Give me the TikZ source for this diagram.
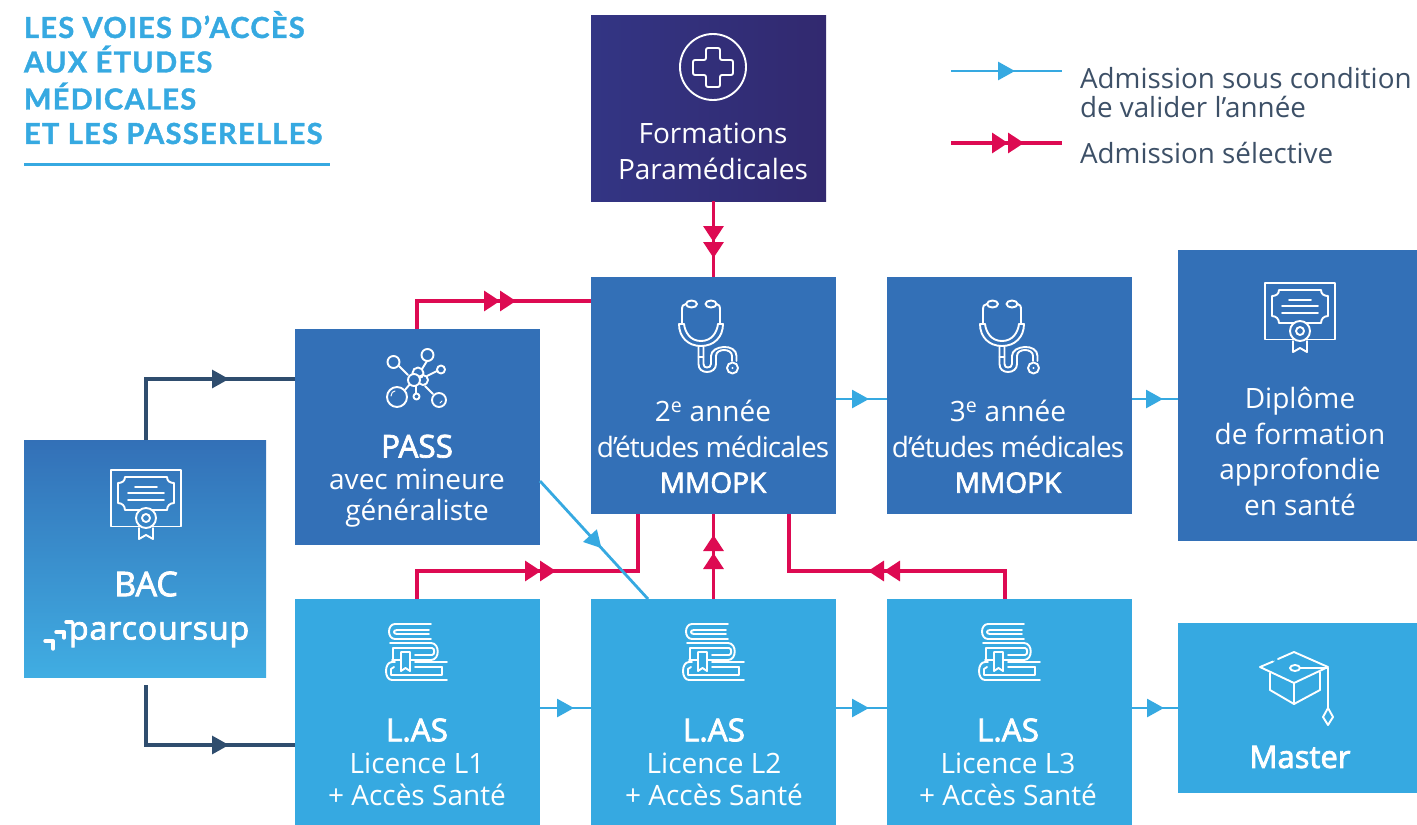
\documentclass[tikz,border=0pt]{standalone}
\usepackage{fontspec}
\setmainfont{Open Sans}
\newfontfamily\ttlfont[LetterSpace=4.5,BoldFeatures={FakeBold=1.3}]{Lato}
\newfontfamily\psfont[LetterSpace=3,FakeBold=2.5]{Open Sans}
\newfontfamily\sbfont[FakeBold=2.5]{Open Sans}
\newfontfamily\tightfont[LetterSpace=-3.4]{Open Sans}
\usetikzlibrary{arrows.meta,decorations.markings,calc}
\definecolor{boxblue}{HTML}{3370B7}
\definecolor{lightblue}{HTML}{36A9E1}
\definecolor{pinkc}{HTML}{DD0A52}
\definecolor{navyc}{HTML}{2F4D6E}
\definecolor{legendc}{HTML}{3D5067}
\definecolor{paraL}{HTML}{333584}
\definecolor{paraR}{HTML}{32296F}
\definecolor{bacseal}{HTML}{3784C5}
\tikzset{
  x=1pt,y=-1pt,
  boxd/.style={draw=none,fill=boxblue,inner sep=0,outer sep=0},
  boxl/.style={draw=none,fill=lightblue,inner sep=0,outer sep=0},
  lbl/.style={inner sep=0,outer sep=0,align=center,text=white,font=\fontsize{28}{35.6}\selectfont},
  lblb/.style={inner sep=0,outer sep=0,align=center,text=white,font=\fontsize{28}{31.5}\selectfont},
  lblc/.style={inner sep=0,outer sep=0,align=center,text=white,font=\fontsize{28}{32}\selectfont},
  lgd/.style={inner sep=0,outer sep=0,align=left,anchor=west,text=legendc,font=\fontsize{27.8}{29.5}\selectfont},
  tipone/.style={postaction={decorate,decoration={markings,mark=at position #1pt with {\arrow{Triangle[length=17pt,width=18pt]}}}}},
  tippink/.style={postaction={decorate,decoration={markings,mark=at position #1pt with {\arrow{Triangle[length=16pt,width=20pt]}}}}},
  bluelink/.style={draw=lightblue,line width=2.8pt},
  pinklink/.style={draw=pinkc,line width=3.2pt},
  navylink/.style={draw=navyc,line width=3.2pt},
  ic/.style={draw=white,line width=1.9pt,line cap=round,line join=round},
  iconsteth/.pic={
    \draw[ic] (51.5,19) ellipse [x radius=5.5,y radius=3.5];
    \draw[ic] (71,19) ellipse [x radius=5.5,y radius=3.5];
    \draw[ic] (46,19) .. controls (43,19) and (42,21) .. (42,25) -- (42,39);
    \draw[ic] (76.5,19) .. controls (79,19) and (80,21) .. (80,25) -- (80,39);
    \draw[ic] (39,39) -- (44,39) (78,39) -- (83,39);
    \draw[ic] (39,39) .. controls (39,52) and (48,61) .. (61,61) .. controls (74,61) and (83,52) .. (83,39);
    \draw[ic] (44,39) .. controls (45,47) and (50,56) .. (61,56) .. controls (72,56) and (77,47) .. (78,39);
    \draw[ic] (58.5,61) -- (58.5,79) .. controls (58.5,84) and (62,87) .. (67,87) .. controls (72,87) and (76,84) .. (76,79) -- (76,71) .. controls (76,63) and (92,63) .. (92,71) -- (92,76);
    \draw[ic] (63.5,61) -- (63.5,79) .. controls (63.5,81.5) and (65,82.5) .. (67,82.5) .. controls (69,82.5) and (71,81.5) .. (71,79) -- (71,71) .. controls (71,60) and (96.5,58) .. (96.5,71) -- (96.5,76);
    \draw[ic] (58.5,72) -- (63.5,72);
    \draw[ic] (92.5,83) circle [radius=5.5];
    \fill[white] (92.5,83) circle [radius=1.2];
  },
  iconcert/.pic={
    \draw[ic] (-35,-35) rectangle (35,21.5);
    \draw[ic] (-21,-28) -- (21,-28) .. controls (21,-24) and (24,-22) .. (28,-22) -- (28,-2) .. controls (24,-2) and (21,1) .. (21,5) -- (-21,5)
      .. controls (-21,1) and (-24,-2) .. (-28,-2) -- (-28,-22) .. controls (-24,-22) and (-21,-24) .. (-21,-28) -- cycle;
    \draw[ic] (-11,-18) -- (11,-18) (-18,-12) -- (18,-12) (-18,-5) -- (18,-5);
    \draw[ic,fill=#1] (0,13) circle [radius=10];
    \draw[ic] (0,13) circle [radius=4];
    \draw[ic] (-7,23) -- (-7,34) -- (0,30) -- (7,34) -- (7,23);
  },
  iconmol/.pic={
    \draw[ic] (399,366) -- (408,375) (427,361) -- (422,369) (437,371) -- (427,376) (416,386) -- (416,393) (405,390) -- (410,384) (425,386) -- (433,394);
    \draw[ic] (418,373) circle [radius=5.5];
    \draw[ic] (423,380) circle [radius=5];
    \draw[ic,fill=boxblue] (414,380) circle [radius=6];
    \draw[ic] (393.5,362) circle [radius=6];
    \draw[ic] (427.5,355) circle [radius=6];
    \draw[ic] (441,369.5) circle [radius=4];
    \draw[ic] (397,397) circle [radius=10];
    \draw[ic] (439,400) circle [radius=7];
    \draw[ic] (416.5,396.5) circle [radius=3];
    \draw[ic,line width=1pt] (391,396) .. controls (391,393) and (393,391) .. (395,391);
    \draw[ic,line width=1pt] (440,403) -- (442,401);
  },
  iconbooks/.pic={
    \draw[ic] (61,14) -- (25,14) .. controls (17,14) and (17,29) .. (25,29) -- (61,29);
    \draw[ic] (59,20) -- (27,20) .. controls (23,20) and (23,24) .. (27,24) -- (59,24);
    \draw[ic] (20,33) -- (61,33) .. controls (70,33) and (70,50) .. (61,50) -- (22,50);
    \draw[ic] (45,38) -- (62,38) .. controls (65,38) and (65,45) .. (62,45) -- (45,45);
    \draw[ic] (23,38) -- (23,50);
    \draw[ic] (23,38) -- (45,38);
    \draw[ic,fill=lightblue] (31,42) -- (31,61) -- (35.5,58) -- (40,61) -- (40,42) -- cycle;
    \draw[ic] (45,52) -- (77,52);
    \draw[ic] (25,52) -- (22,52) .. controls (14,52) and (14,70) .. (22,70) -- (77,70);
    \draw[ic] (72,57) -- (72,65) -- (21,65) -- (21,59) -- (24,57);
    \draw[ic] (45,57) -- (72,57);
  },
  iconcap/.pic={
    \draw[ic] (1278,659) -- (1294,652) -- (1328,667) -- (1294,683) -- (1260,667) -- (1273,661.5);
    \fill[white] (1274.5,661) circle [radius=.3];
    \draw[ic] (1295,668) ellipse [x radius=5,y radius=3];
    \draw[ic] (1300,668) -- (1328,668) -- (1328,708);
    \draw[ic] (1328,708) -- (1333,717) -- (1328,725) -- (1323,717) -- cycle;
    \draw[ic] (1270,673) -- (1270,690) -- (1294,704) -- (1320,690) -- (1320,672);
    \draw[ic] (1294,683) -- (1294,704);
  },
}
\begin{document}
\begin{tikzpicture}
\useasboundingbox (0,0) rectangle (1417,825);
% title
\node[inner sep=0,outer sep=0,anchor=north west,align=left,text=lightblue,font=\fontsize{29}{34.5}\selectfont\ttlfont\bfseries] (title) at (24,11) {LES VOIES D’ACCÈS\\AUX ÉTUDES\\[2.5pt]MÉDICALES\\ET LES PASSERELLES};
\coordinate (ruleA) at (24,164.5);
\coordinate (ruleB) at (330,164.5);
\draw[draw=lightblue,line width=2.4pt] (ruleA) -- (ruleB);
% boxes
\node[inner sep=0,outer sep=0,minimum width=235,minimum height=186,left color=paraL,right color=paraR,middle color=paraL!50!paraR] (para) at (708.5,108) {};
\node[boxd,minimum width=245,minimum height=237] (m2) at (713.5,395.5) {};
\node[boxd,minimum width=245,minimum height=237] (m3) at (1009.5,395.5) {};
\node[boxd,minimum width=239,minimum height=291] (dip) at (1297.5,395.5) {};
\node[boxd,minimum width=245,minimum height=216] (pass) at (417.5,437) {};
\node[inner sep=0,outer sep=0,minimum width=242,minimum height=237,top color=boxblue,bottom color=lightblue!95!white] (bac) at (145,558.5) {};
\node[boxl,minimum width=245,minimum height=226] (las1) at (417.5,712) {};
\node[boxl,minimum width=245,minimum height=226] (las2) at (713.5,712) {};
\node[boxl,minimum width=245,minimum height=226] (las3) at (1009.5,712) {};
\node[boxl,minimum width=239,minimum height=170] (master) at (1297.5,708) {};
% junctions
\coordinate (h1) at (638,571);
\coordinate (h2) at (789,571);
\coordinate (h3) at (591,301);
\coordinate (h4) at (295,379);
\coordinate (h5) at (295,745);
\coordinate (bacT) at (146,440);
\coordinate (bacB) at (146,685);
\coordinate (l1) at (1005,599);
\coordinate (pa) at (417,329);
\coordinate (la) at (417,599);
% connectors
\draw[navylink,tipone=144,navyc] (bacT) |- (h4);
\draw[navylink,tipone=143,navyc] (bacB) |- (h5);
\draw[pinklink,tippink=111,tippink=127,pinkc] (pa) |- (h3);
\draw[pinklink,tippink=41,tippink=57,pinkc] (para.south -| m2.north) -- (m2.north);
\draw[pinklink,tippink=152,tippink=167,pinkc] (la) |- (h1) -- (h1 |- m2.south);
\draw[pinklink,tippink=46,tippink=64,pinkc] (las2.north) -- (m2.south);
\draw[pinklink,tippink=149,tippink=165,pinkc] (l1) |- (h2) -- (h2 |- m2.south);
\coordinate (dA) at (540,481);
\coordinate (dB) at (648,599);
\draw[bluelink,tipone=91,lightblue] (dA) -- (dB);
\draw[bluelink,tipone=33,lightblue] (m2.east |- 0,399) -- (m3.west |- 0,399);
\draw[bluelink,tipone=31,lightblue] (m3.east |- 0,399) -- (dip.west |- 0,399);
\draw[bluelink,tipone=34,lightblue] (las1.east |- 0,708) -- (las2.west |- 0,708);
\draw[bluelink,tipone=33,lightblue] (las2.east |- 0,708) -- (las3.west |- 0,708);
\draw[bluelink,tipone=32,lightblue] (las3.east |- 0,708) -- (master.west);
% legend
\coordinate (lgA) at (951,71);
\coordinate (lgB) at (1062,71);
\coordinate (lgC) at (951,143);
\coordinate (lgD) at (1062,143);
\draw[bluelink,tipone=64,lightblue] (lgA) -- (lgB);
\draw[pinklink,tippink=57,tippink=73,pinkc] (lgC) -- (lgD);
\node[lgd] (lg1) at (1080,92.5) {Admission sous condition\\de valider l’année};
\node[lgd] (lg2) at (1080,153) {Admission sélective};
% labels
\node[lbl] (tpara) at (713,151.5) {Formations\\Paramédicales};
\node[lbl] (tm2) at (713,446.5) {2\textsuperscript{e} année\\{\tightfont d’études médicales}\\{\sbfont MMOPK}};
\node[lbl] (tm3) at (1008,446.5) {3\textsuperscript{e} année\\{\tightfont d’études médicales}\\{\sbfont MMOPK}};
\node[lbl] (tdip) at (1300,451.5) {Diplôme\\de formation\\approfondie\\en santé};
\node[lblb] (tpass) at (417,481) {{\fontsize{31.5}{31.5}\sbfont PASS}\\avec mineure\\généraliste};
\node[lblc] (tl1) at (417,762) {{\fontsize{31.5}{31.5}\sbfont L.AS}\\Licence L1\\+ Accès Santé};
\node[lblc] (tl2) at (714,762) {{\fontsize{31.5}{31.5}\sbfont L.AS}\\Licence L2\\+ Accès Santé};
\node[lblc] (tl3) at (1008,762) {{\fontsize{31.5}{31.5}\sbfont L.AS}\\Licence L3\\+ Accès Santé};
\node[lbl,font=\fontsize{31}{36}\selectfont\sbfont] (tmaster) at (1300,757) {Master};
\node[lbl,font=\fontsize{34}{36}\selectfont\sbfont] (tbac) at (146,584) {BAC};
\node[inner sep=0,outer sep=0,text=white,anchor=base west,font=\fontsize{32}{36}\psfont] (tps) at (69,639.5) {parcoursup};
% parcoursup mark
\draw[draw=white,line width=3.4pt,line cap=round,line join=round] (45,641) -- (53,641) -- (53,649) (56,632) -- (64,632) -- (64,638) (66,622) -- (72,622);
% icons
\draw[ic] (713,67) circle [radius=33];
\draw[ic,rounded corners=2pt] (706,48) -- (720,48) -- (720,60) -- (733,60) -- (733,75) -- (720,75) -- (720,87) -- (706,87) -- (706,75) -- (693,75) -- (693,60) -- (706,60) -- cycle;
\pic at (640,285) {iconsteth};
\pic at (941,285) {iconsteth};
\pic at (146,505) {iconcert=bacseal};
\pic at (1300,318) {iconcert=boxblue};
\pic at (0,0) {iconmol};
\pic at (370,610) {iconbooks};
\pic at (667,610) {iconbooks};
\pic at (963,610) {iconbooks};
\pic at (0,0) {iconcap};
\end{tikzpicture}
\end{document}
